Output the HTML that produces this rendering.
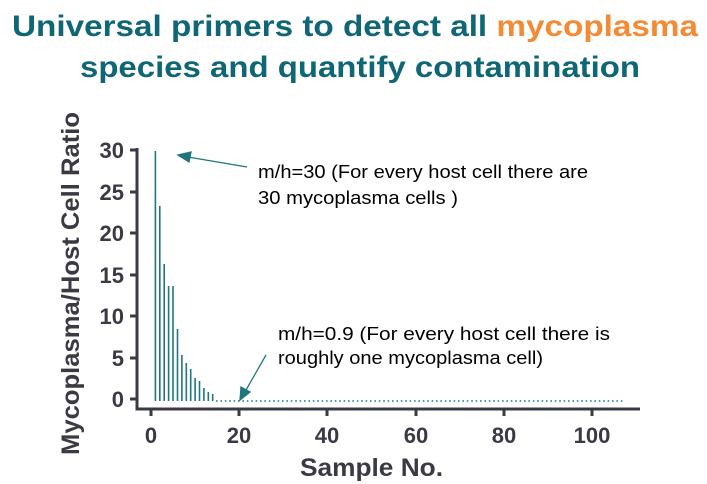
<!DOCTYPE html>
<html><head><meta charset="utf-8"><style>body{margin:0;background:#fff}svg{display:block}</style></head><body>
<svg width="707" height="484" xmlns="http://www.w3.org/2000/svg" font-family="Liberation Sans, sans-serif">
<text x="12" y="36" font-size="30" font-weight="bold" fill="#0f6674" textLength="686" lengthAdjust="spacingAndGlyphs">Universal primers to detect all <tspan fill="#f58a34">mycoplasma</tspan></text>
<text x="80" y="77" font-size="30" font-weight="bold" fill="#0f6674" textLength="560" lengthAdjust="spacingAndGlyphs">species and quantify contamination</text>
<g stroke="#3a3a44" stroke-width="3" fill="none">
<path d="M137 148 V409 H640"/>
<path d="M130 150H137M130 192H137M130 233H137M130 275H137M130 316H137M130 358H137M130 399H137"/>
<path d="M151 409V416M239 409V416M327 409V416M416 409V416M504 409V416M592 409V416"/>
</g>
<g font-size="22" font-weight="bold" fill="#3a3a44" text-anchor="end">
<text x="124" y="158">30</text><text x="124" y="200">25</text><text x="124" y="241">20</text><text x="124" y="283">15</text><text x="124" y="324">10</text><text x="124" y="366">5</text><text x="124" y="407">0</text>
</g>
<g font-size="22" font-weight="bold" fill="#3a3a44" text-anchor="middle">
<text x="151" y="443">0</text><text x="239" y="443">20</text><text x="327" y="443">40</text><text x="416" y="443">60</text><text x="504" y="443">80</text><text x="592" y="443">100</text>
</g>
<text x="300" y="476" font-size="25" font-weight="bold" fill="#3a3a44" textLength="143" lengthAdjust="spacingAndGlyphs">Sample No.</text>
<text transform="translate(79,455) rotate(-90)" font-size="25" font-weight="bold" fill="#3a3a44" textLength="343" lengthAdjust="spacingAndGlyphs">Mycoplasma/Host Cell Ratio</text>
<g stroke="#1f7580" stroke-width="1.6">
<path d="M155.4 401V151M159.8 401V206M164.2 401V264M168.6 401V286M173 401V286M177.5 401V329M181.9 401V355M186.3 401V363M190.7 401V369M195.1 401V378M199.5 401V381M203.9 401V388M208.3 401V392M212.7 401V394"/>
</g>
<line x1="216" y1="401" x2="624" y2="401" stroke="#1f7580" stroke-width="1.6" stroke-dasharray="1.6 2.8"/>
<g stroke="#1f7580" stroke-width="1.3" fill="#1f7580">
<line x1="247" y1="167" x2="188" y2="157"/>
<polygon points="178,155 191,152 189,162"/>
<line x1="266" y1="355" x2="246" y2="390"/>
<polygon points="240,400 241,387 250,392"/>
</g>
<g font-size="18" fill="#000">
<text x="258" y="178" textLength="330" lengthAdjust="spacingAndGlyphs">m/h=30 (For every host cell there are</text>
<text x="258" y="204" textLength="200" lengthAdjust="spacingAndGlyphs">30 mycoplasma cells )</text>
<text x="278" y="340" textLength="332" lengthAdjust="spacingAndGlyphs">m/h=0.9  (For every host cell there is</text>
<text x="278" y="364" textLength="265" lengthAdjust="spacingAndGlyphs">roughly one mycoplasma cell)</text>
</g>
</svg>
</body></html>
